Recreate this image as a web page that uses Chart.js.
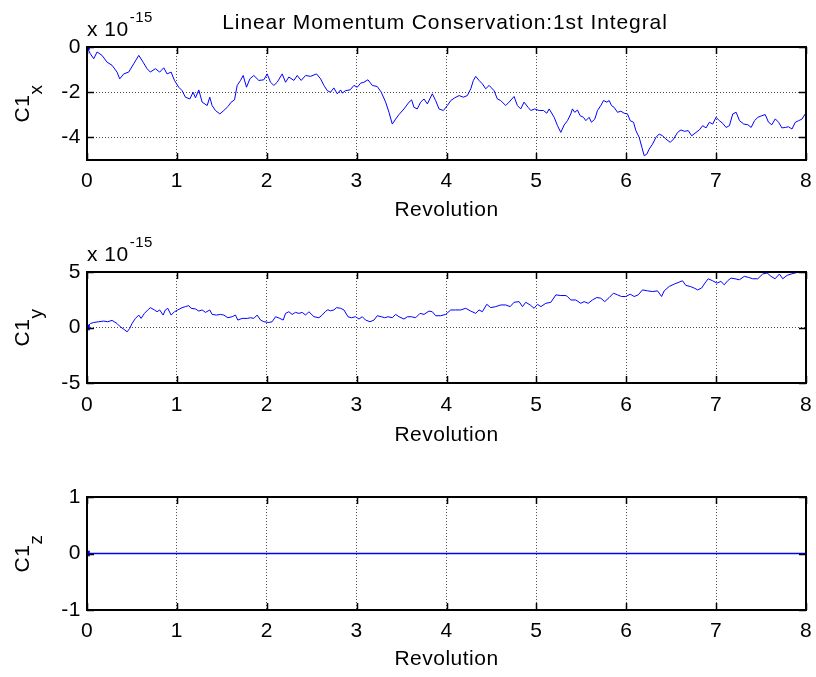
<!DOCTYPE html>
<html>
<head>
<meta charset="utf-8">
<script src="https://cdn.jsdelivr.net/npm/chart.js@4.4.1/dist/chart.umd.min.js"></script>
<style>
  body { margin: 0; background: #fff; }
  #wrap { position: relative; width: 816px; height: 677px; }
  canvas { position: absolute; left: 0; }
</style>
</head>
<body>
<div id="wrap">
  <canvas id="cx" width="816" height="225" style="top:0"></canvas>
  <canvas id="cy" width="816" height="225" style="top:225px"></canvas>
  <canvas id="cz" width="816" height="227" style="top:450px"></canvas>
</div>
<script>
// values in units of 1e-15, x in revolutions
const revTicks = [0, 1, 2, 3, 4, 5, 6, 7, 8];

const revX = [0.000,0.037,0.075,0.112,0.167,0.223,0.279,0.334,0.364,0.409,0.464,0.520,0.576,0.624,0.668,0.705,0.761,0.809,0.854,0.891,0.936,0.973,
  1.021,1.058,1.095,1.144,1.181,1.207,1.244,1.281,1.337,1.366,1.392,1.429,1.478,1.522,1.567,1.604,1.641,1.671,1.708,1.738,1.775,1.812,1.856,1.912,1.968,
  2.005,2.042,2.079,2.116,2.172,2.209,2.246,2.302,2.339,2.383,2.432,2.487,2.554,2.599,2.636,2.673,2.710,2.747,2.784,2.822,2.840,2.877,2.926,2.970,
  3.007,3.044,3.081,3.126,3.174,3.230,3.274,3.323,3.360,3.397,3.434,3.471,3.527,3.583,3.612,3.638,3.675,3.712,3.750,3.787,3.842,3.879,3.917,3.965,
  4.010,4.047,4.091,4.140,4.188,4.232,4.270,4.299,4.325,4.362,4.399,4.436,4.474,4.529,4.566,4.603,4.659,4.696,4.752,4.789,4.826,4.863,4.908,4.938,4.982,
  5.031,5.079,5.116,5.142,5.198,5.235,5.272,5.309,5.346,5.383,5.401,5.427,5.457,5.487,5.524,5.550,5.587,5.613,5.650,5.680,5.717,5.747,5.784,5.810,5.836,5.865,5.903,5.940,5.977,
  6.014,6.044,6.081,6.107,6.144,6.174,6.200,6.229,6.255,6.292,6.330,6.367,6.404,6.441,6.490,6.527,6.571,6.609,6.646,6.690,6.728,6.776,6.813,6.850,6.888,6.925,6.962,
  6.999,7.036,7.074,7.111,7.148,7.185,7.223,7.260,7.308,7.353,7.390,7.427,7.465,7.509,7.546,7.583,7.620,7.658,7.695,7.732,7.769,7.806,7.844,7.881,7.918,7.955,7.992];
const c1x = [0.00,-0.30,-0.52,-0.22,-0.37,-0.67,-0.81,-1.11,-1.41,-1.19,-1.11,-0.74,-0.37,-0.67,-0.96,-1.11,-0.96,-1.11,-0.92,-1.19,-1.11,-1.48,
  -1.78,-1.93,-2.22,-2.30,-2.00,-2.25,-1.90,-2.44,-2.59,-2.22,-2.59,-2.81,-2.96,-2.81,-2.64,-2.44,-2.34,-1.70,-1.48,-1.26,-1.78,-1.41,-1.26,-1.48,-1.45,
  -1.19,-1.56,-1.70,-1.56,-1.19,-1.56,-1.33,-1.48,-1.26,-1.48,-1.26,-1.30,-1.19,-1.41,-1.70,-1.93,-2.00,-1.81,-2.07,-1.90,-2.04,-1.93,-1.90,-1.70,
  -1.78,-1.60,-1.56,-1.45,-1.70,-1.75,-2.00,-2.44,-2.89,-3.41,-3.19,-2.99,-2.74,-2.44,-2.34,-2.67,-2.74,-2.44,-2.30,-2.52,-2.07,-2.37,-2.74,-2.81,
  -2.59,-2.37,-2.25,-2.15,-2.22,-2.15,-1.85,-1.48,-1.30,-1.48,-1.63,-1.85,-1.70,-1.93,-2.30,-2.37,-2.59,-2.44,-2.19,-2.59,-2.74,-2.44,-2.67,-2.81,-2.74,
  -2.81,-2.81,-2.93,-2.74,-3.11,-3.48,-3.78,-3.45,-3.26,-2.96,-2.74,-2.89,-2.79,-3.04,-3.11,-3.26,-3.11,-3.33,-3.19,-2.81,-2.59,-2.37,-2.44,-2.37,-2.59,-2.67,-2.89,-2.84,-2.93,
  -2.96,-3.26,-3.33,-3.70,-4.00,-4.44,-4.81,-4.74,-4.52,-4.30,-4.00,-3.85,-3.93,-4.07,-4.22,-4.07,-3.78,-3.67,-3.73,-3.70,-3.93,-3.78,-3.67,-3.48,-3.58,-3.33,-3.41,
  -3.11,-3.26,-3.38,-3.56,-3.48,-2.96,-2.89,-3.26,-3.41,-3.44,-3.56,-3.26,-3.11,-3.04,-2.99,-3.33,-3.44,-3.18,-3.33,-3.58,-3.56,-3.53,-3.63,-3.33,-3.26,-3.19,-2.96];

const revY = [0.000,0.037,0.075,0.130,0.186,0.230,0.279,0.334,0.371,0.409,0.446,0.475,0.501,0.539,0.576,0.602,0.639,0.676,0.705,0.750,0.780,0.809,0.847,0.872,0.899,0.936,0.973,
  1.010,1.058,1.095,1.132,1.158,1.207,1.244,1.281,1.318,1.366,1.392,1.441,1.485,1.522,1.567,1.615,1.652,1.678,1.726,1.782,1.819,1.856,1.893,1.931,1.968,
  2.023,2.060,2.098,2.146,2.183,2.209,2.246,2.283,2.320,2.358,2.395,2.432,2.469,2.525,2.580,2.617,2.654,2.680,2.710,2.747,2.777,2.822,2.859,2.904,2.941,2.988,
  3.026,3.063,3.100,3.148,3.193,3.230,3.274,3.312,3.348,3.397,3.434,3.471,3.527,3.564,3.608,3.657,3.705,3.750,3.805,3.842,3.879,3.935,3.991,
  4.047,4.102,4.158,4.214,4.270,4.325,4.362,4.399,4.448,4.492,4.548,4.603,4.659,4.708,4.752,4.808,4.845,4.882,4.931,4.975,
  5.012,5.050,5.105,5.161,5.217,5.272,5.328,5.346,5.383,5.438,5.494,5.531,5.576,5.624,5.672,5.717,5.761,5.810,5.858,5.903,5.947,5.995,
  6.044,6.088,6.133,6.181,6.237,6.292,6.348,6.393,6.422,6.478,6.534,6.589,6.626,6.663,6.712,6.756,6.794,6.838,6.875,6.912,6.961,
  7.009,7.053,7.091,7.128,7.165,7.210,7.258,7.314,7.358,7.407,7.463,7.518,7.567,7.611,7.656,7.704,7.741,7.790,7.834,7.879,7.927,7.976];
const c1y = [0.00,0.36,0.45,0.52,0.58,0.52,0.64,0.36,0.06,-0.15,-0.39,-0.09,0.36,0.82,1.12,0.82,1.27,1.58,1.79,1.58,1.42,1.58,1.12,1.58,1.73,1.12,1.42,
  1.58,1.79,1.88,1.97,1.73,1.67,1.48,1.58,1.36,1.58,1.18,1.12,1.18,1.12,0.88,0.97,1.12,0.67,0.82,0.82,0.88,0.82,1.12,0.67,0.52,
  0.45,0.52,0.97,0.82,0.67,1.27,1.42,1.18,1.36,1.27,1.36,1.12,1.42,0.97,0.88,1.12,1.45,1.60,1.50,1.58,1.79,1.73,1.58,0.97,0.88,0.97,
  0.76,0.97,0.67,0.52,0.67,1.06,0.97,0.88,0.97,0.88,1.18,0.97,0.76,0.97,0.97,0.88,1.27,1.18,1.48,1.42,1.06,1.06,1.18,
  1.58,1.58,1.58,1.73,1.48,1.27,1.58,1.42,2.09,1.79,1.88,2.03,2.03,1.88,2.27,2.33,1.88,2.27,2.03,1.73,
  2.09,1.88,2.18,2.27,2.94,2.88,2.88,2.79,2.48,2.48,2.18,2.33,2.18,2.48,2.70,2.64,2.33,2.70,3.09,2.94,2.79,2.79,
  3.00,2.79,2.94,3.39,3.30,3.24,3.30,2.79,3.30,3.70,3.91,4.09,4.21,3.79,3.70,3.55,3.39,3.55,4.00,4.39,4.21,
  4.00,4.15,3.85,4.21,4.45,4.39,4.30,4.61,4.52,4.39,4.39,4.82,4.91,4.61,4.39,4.82,4.39,4.70,4.82,4.91,5.00,5.00];

const revZ = [0, 8];
const c1z = [0, 0];

const ticksX1 = [-4, -2, 0];
const ticksY1 = [-5, 0, 5];
const ticksZ1 = [-1, 0, 1];

const FONT = '"Liberation Sans", Arial, sans-serif';
const tickFont = {family: FONT, size: 21};

const frame = {
  id: 'frame',
  beforeDraw(chart) {
    chart.ctx.letterSpacing = '0.5px';
  },
  afterDraw(chart, args, o) {
    const {ctx, chartArea: a, scales} = chart;
    ctx.save();
    ctx.setLineDash([]);
    ctx.strokeStyle = '#000';
    ctx.lineWidth = 1.5;
    // MATLAB style inward ticks on all four sides
    ctx.beginPath();
    revTicks.forEach(v => {
      const px = Math.round(scales.x.getPixelForValue(v)) + 0.5;
      ctx.moveTo(px, a.bottom); ctx.lineTo(px, a.bottom - 7);
      ctx.moveTo(px, a.top); ctx.lineTo(px, a.top + 7);
    });
    o.yTicks.forEach(v => {
      const py = Math.round(scales.y.getPixelForValue(v)) + 0.5;
      ctx.moveTo(a.left, py); ctx.lineTo(a.left + 7, py);
      ctx.moveTo(a.right, py); ctx.lineTo(a.right - 7, py);
    });
    ctx.stroke();
    ctx.lineWidth = 2;
    ctx.strokeRect(a.left, a.top, a.right - a.left, a.bottom - a.top);

    ctx.fillStyle = '#000';
    ctx.textBaseline = 'alphabetic';
    ctx.letterSpacing = '0.5px';

    // y label with subscript
    ctx.save();
    ctx.translate(28.5, (a.top + a.bottom) / 2);
    ctx.rotate(-Math.PI / 2);
    ctx.font = '21px ' + FONT;
    const w1 = ctx.measureText('C1').width;
    ctx.font = '19px ' + FONT;
    const w2 = ctx.measureText(o.sub).width;
    const x0 = -(w1 + w2) / 2;
    ctx.font = '21px ' + FONT;
    ctx.textAlign = 'left';
    ctx.fillText('C1', x0, 0);
    ctx.font = '19px ' + FONT;
    ctx.fillText(o.sub, x0 + w1, 13.5);
    ctx.restore();

    if (o.exp) {
      ctx.textAlign = 'left';
      ctx.font = '21px ' + FONT;
      ctx.fillText('x 10', a.left, a.top - 11.5);
      const w = ctx.measureText('x 10').width;
      ctx.font = '15px ' + FONT;
      ctx.fillText('-15', a.left + w + 1, a.top - 25);
    }
    if (o.title) {
      ctx.textAlign = 'center';
      ctx.font = '21px ' + FONT;
      ctx.letterSpacing = '0.9px';
      ctx.fillText(o.title, 445, 28.5);
    }
    ctx.restore();
  }
};

function makePlot(id, xs, ys, yMin, yMax, yTicks, p) {
  const pts = xs.map((x, i) => ({x: x, y: ys[i]}));
  return new Chart(document.getElementById(id), {
    type: 'line',
    data: {
      datasets: [{
        data: pts,
        borderColor: '#0000ff',
        borderWidth: p.lw,
        tension: 0,
        pointStyle: 'rect',
        pointRadius: ctx => ctx.dataIndex === 0 ? 4 : 0,
        pointBackgroundColor: '#0000ff',
        pointBorderWidth: 0,
      }]
    },
    options: {
      responsive: false,
      animation: false,
      devicePixelRatio: 1,
      layout: {padding: {top: 47, right: 10, left: 0, bottom: 0}},
      plugins: {
        legend: {display: false},
        tooltip: {enabled: false},
        frame: {sub: p.sub, exp: p.exp, title: p.title, yTicks: yTicks},
      },
      scales: {
        x: {
          type: 'linear', min: 0, max: 8,
          afterBuildTicks: s => { s.ticks = revTicks.map(v => ({value: v})); },
          afterFit: s => { s.height = p.xh; s.paddingLeft = 0; s.paddingRight = 0; },
          grid: {color: 'rgba(0,0,0,0.7)', drawTicks: false, lineWidth: 1},
          border: {display: false, dash: [1, 2]},
          ticks: {color: '#000', font: tickFont, padding: p.tp, maxRotation: 0, autoSkip: false},
          title: {display: true, text: 'Revolution', color: '#000', font: tickFont, padding: {top: 0, bottom: p.tb}},
        },
        y: {
          type: 'linear', min: yMin, max: yMax,
          afterBuildTicks: s => { s.ticks = yTicks.map(v => ({value: v})); },
          afterFit: s => { s.width = 87; s.paddingTop = 0; s.paddingBottom = 0; },
          grid: {color: 'rgba(0,0,0,0.7)', drawTicks: false, lineWidth: 1},
          border: {display: false, dash: [1, 2]},
          ticks: {color: '#000', font: tickFont, padding: 6},
        },
      },
    },
    plugins: [frame],
  });
}

makePlot('cx', revX, c1x, -5, 0, ticksX1,
  {sub: 'x', exp: true, title: 'Linear Momentum Conservation:1st Integral', xh: 65, tp: 9, tb: 2, lw: 1});
makePlot('cy', revY, c1y, -5, 5, ticksY1,
  {sub: 'y', exp: true, xh: 67, tp: 10, tb: 2, lw: 1});
makePlot('cz', revZ, c1z, -1, 1, ticksZ1,
  {sub: 'z', exp: false, xh: 67, tp: 9, tb: 5, lw: 1.5});
</script>
</body>
</html>
